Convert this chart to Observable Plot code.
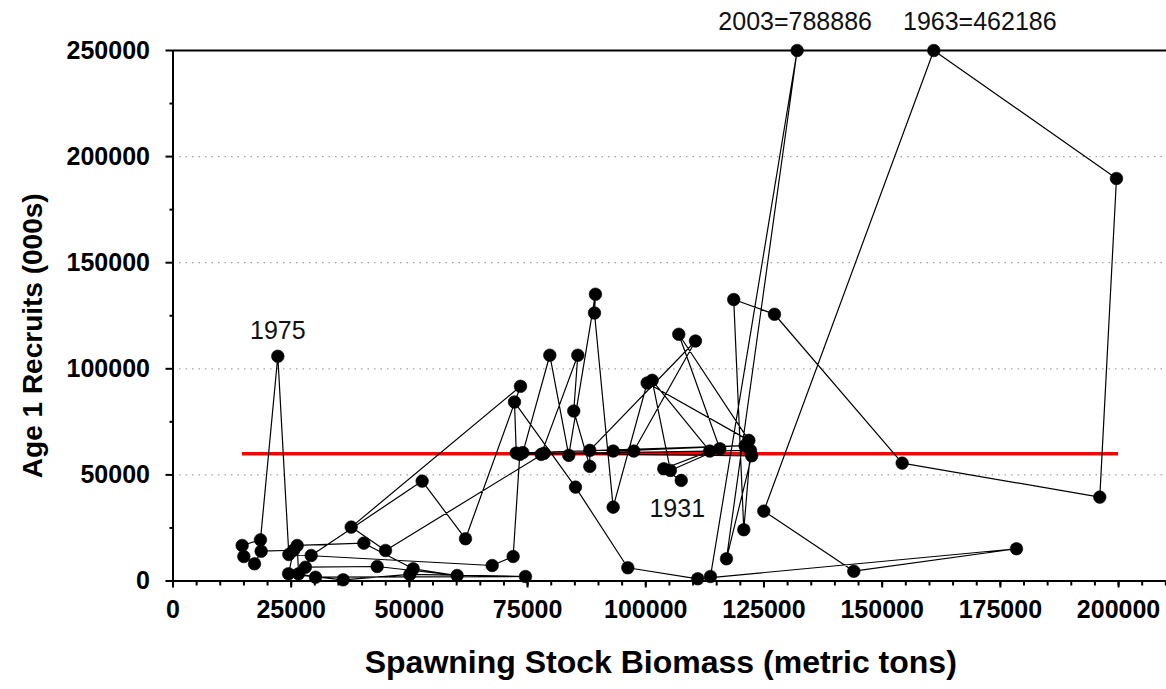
<!DOCTYPE html>
<html>
<head>
<meta charset="utf-8">
<script src="https://cdn.jsdelivr.net/npm/d3@7"></script>
<script src="https://cdn.jsdelivr.net/npm/@observablehq/plot@0.6"></script>
<style>
  html, body { margin: 0; padding: 0; background: #fff; }
  #chart svg { display: block; }
</style>
</head>
<body>
<div id="chart"></div>
<script>
// Year classes, spawning stock biomass (t) and age-1 recruits (000s)
const years = [
  1931, 1932, 1933, 1934, 1935, 1936, 1937, 1938, 1939, 1940,
  1941, 1942, 1943, 1944, 1945, 1946, 1947, 1948, 1949, 1950,
  1951, 1952, 1953, 1954, 1955, 1956, 1957, 1958, 1959, 1960,
  1961, 1962, 1963, 1964, 1965, 1966, 1967, 1968, 1969, 1970,
  1971, 1972, 1973, 1974, 1975, 1976, 1977, 1978, 1979, 1980,
  1981, 1982, 1983, 1984, 1985, 1986, 1987, 1988, 1989, 1990,
  1991, 1992, 1993, 1994, 1995, 1996, 1997, 1998, 1999, 2000,
  2001, 2002, 2003, 2004
];
const ssb = [
  107500, 103800, 113540, 101350, 105200, 115660, 106980, 121800, 100290, 93100,
  89150, 89350, 83710, 79700, 74000, 77880, 85620, 84770, 88160, 88160,
  110510, 97460, 93100, 121000, 72600, 72230, 85130, 96200, 111000, 178410,
  144000, 124960, 160920, 199560, 196030, 154230, 127220, 118600, 120730, 122140,
  73350, 71950, 67510, 24500, 22170, 18500, 14630, 14980, 17240, 18650,
  25500, 24440, 36000, 50090, 74550, 30140, 26560, 26270, 40360, 50800,
  60100, 43190, 28000, 29230, 52700, 61870, 73500, 37690, 44950, 78500,
  122400, 117070, 132020, 113680
];
const recruits = [
  47400, 52900, 61230, 94580, 52100, 62350, 116270, 66270, 93300, 34800,
  126300, 135150, 59200, 106400, 60500, 59670, 106400, 80100, 54010, 61560,
  113110, 61230, 61230, 63800, 60300, 84340, 44250, 6230, 1040, 15190,
  4620, 32930, 462186, 189700, 39530, 55570, 125710, 132640, 24150, 61560,
  59670, 11560, 7310, 12500, 105900, 19400, 16750, 11560, 8100, 14050,
  14500, 3400, 570, 3100, 2120, 1800, 3400, 16750, 17830, 5750,
  2590, 6840, 6500, 12030, 47080, 19900, 91750, 25400, 14400, 60200,
  59000, 10470, 788886, 2120
];

// Annotated year classes; values above the axis maximum are written out
const labelledYears = [1931, 1963, 1975, 2003];
const offScaleYears = [1963, 2003];

// Reference recruitment level and the biomass span it is drawn over
const refRecruits = 60000;
const refSsbFrom = 14700;
const refSsbTo = 200000;

// Axis ticks
const xMajorTicks = [0, 25000, 50000, 75000, 100000, 125000, 150000, 175000, 200000];
const xMinorTicks = d3.range(0, 210001, 5000);
const yMajorTicks = [0, 50000, 100000, 150000, 200000, 250000];
const yMinorTicks = [25000, 75000, 125000, 175000, 225000];
const yGridTicks = [50000, 100000, 150000, 200000];

const xLabel = "Spawning Stock Biomass (metric tons)";
const yLabel = "Age 1 Recruits (000s)";

const xMax = 210140;
const yMax = 250000;

const data = years.map((year, i) => ({ year, ssb: ssb[i], recruits: recruits[i] }));
const yCapped = d => Math.min(d.recruits, yMax);

// Placement of each year annotation relative to its point
const labelOffset = {
  1931: { dx: -4, dy: 29 },
  1963: { dx: 46, dy: -29 },
  1975: { dx: 0, dy: -25 },
  2003: { dx: -2, dy: -29 }
};

const font = "'Liberation Sans', Arial, Helvetica, sans-serif";

const labelMarks = labelledYears.map(yr => Plot.text(data.filter(d => d.year === yr), {
  x: "ssb",
  y: yCapped,
  text: d => offScaleYears.includes(d.year) ? `${d.year}=${d.recruits}` : `${d.year}`,
  dx: labelOffset[yr].dx,
  dy: labelOffset[yr].dy,
  fontSize: 25,
  fill: "#111",
  textAnchor: "middle"
}));

const chart = Plot.plot({
  width: 1166,
  height: 689,
  marginLeft: 172.5,
  marginRight: 0,
  marginTop: 50,
  marginBottom: 108.5,
  x: { domain: [0, xMax], axis: null },
  y: { domain: [0, yMax], axis: null },
  style: { fontFamily: font, background: "#fff", color: "#000", overflow: "visible" },
  marks: [
    // dotted horizontal gridlines
    Plot.ruleY(yGridTicks, { stroke: "#a0a0a0", strokeWidth: 1.2, strokeDasharray: "1.5,5" }),
    // reference recruitment line
    Plot.ruleY([refRecruits], { x1: refSsbFrom, x2: refSsbTo, stroke: "#ff0000", strokeWidth: 3.5 }),
    // stock-recruit trajectory in year order
    Plot.line(data, { x: "ssb", y: yCapped, stroke: "#000", strokeWidth: 1.2 }),
    Plot.dot(data, { x: "ssb", y: yCapped, r: 6.3, fill: "#000", stroke: "#000", strokeWidth: 0.6 }),
    // frame: left axis, bottom axis and top border
    Plot.ruleX([0], { stroke: "#000", strokeWidth: 2 }),
    Plot.ruleY([0], { stroke: "#000", strokeWidth: 2 }),
    Plot.ruleY([yMax], { stroke: "#000", strokeWidth: 2 }),
    // axes
    Plot.axisY(yMajorTicks, {
      anchor: "left", tickSize: 7, tickPadding: 16, tickFormat: "d",
      fontSize: 25, fontWeight: "bold", strokeWidth: 2, label: null
    }),
    Plot.axisY(yMinorTicks, { anchor: "left", tickSize: 3, text: null, strokeWidth: 2, label: null }),
    Plot.axisX(xMajorTicks, {
      anchor: "bottom", tickSize: 7, tickPadding: 12, tickFormat: "d",
      fontSize: 25, fontWeight: "bold", strokeWidth: 2, label: null
    }),
    Plot.axisX(xMinorTicks, { anchor: "bottom", tickSize: 5, text: null, strokeWidth: 2, label: null }),
    // axis titles
    Plot.text([yLabel], {
      frameAnchor: "left", dx: -140, dy: 20, rotate: -90, text: d => d,
      fontSize: 28, fontWeight: "bold", textAnchor: "middle"
    }),
    Plot.text([xLabel], {
      frameAnchor: "bottom", dy: 92, dx: -9, text: d => d,
      fontSize: 32, fontWeight: "bold", textAnchor: "middle"
    }),
    ...labelMarks
  ]
});

document.getElementById("chart").append(chart);
</script>
</body>
</html>
